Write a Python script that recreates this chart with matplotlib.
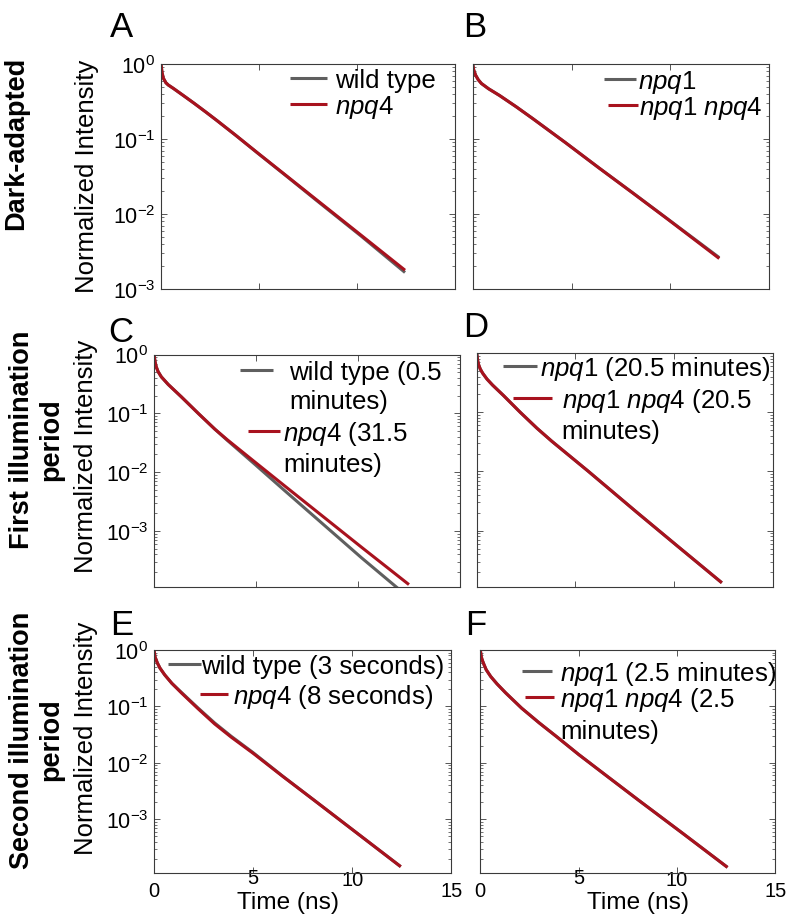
import matplotlib
matplotlib.use('Agg')
import matplotlib.pyplot as plt
from matplotlib.lines import Line2D
from matplotlib.legend import Legend
from matplotlib.transforms import ScaledTranslation

plt.rcParams['font.family'] = ['Liberation Sans', 'DejaVu Sans']
plt.rcParams['mathtext.fontset'] = 'custom'
plt.rcParams['mathtext.rm'] = 'Liberation Sans'
plt.rcParams['mathtext.it'] = 'Liberation Sans:italic'
plt.rcParams['mathtext.bf'] = 'Liberation Sans:bold'

# ---------------- data ----------------
# Panel A: dark-adapted
t_A = [0, 0.05, 0.12, 0.25, 0.37, 0.63, 1.14, 1.7, 2.3, 2.84, 3.8, 4.91, 6.4, 7.93, 10.2, 12.45]
wt_A = [1.0, 0.776, 0.646, 0.562, 0.525, 0.473, 0.380, 0.298, 0.2275, 0.1774, 0.1127,
        0.0655, 0.0320, 0.0152, 0.0051, 0.00166]
npq4_A = [1.0, 0.776, 0.646, 0.562, 0.525, 0.473, 0.380, 0.298, 0.2275, 0.1774, 0.1127,
          0.0659, 0.0323, 0.01552, 0.00524, 0.00178]
# Panel B: dark-adapted
t_B = [0, 0.05, 0.15, 0.28, 0.44, 0.8, 1.36, 2.2, 3.05, 4.7, 6.41, 8.1, 9.78, 12.47]
npq1_B = [1.0, 0.832, 0.708, 0.617, 0.550, 0.468, 0.380, 0.269, 0.186, 0.0891,
          0.0407, 0.0191, 0.00891, 0.00262]
npq1npq4_B = [1.0, 0.832, 0.708, 0.617, 0.550, 0.468, 0.380, 0.269, 0.186, 0.0891,
              0.0407, 0.0190, 0.00885, 0.00255]
# Panel C: first illumination period
t_C = [0, 0.05, 0.11, 0.2, 0.36, 0.7, 1.34, 2.2, 2.99, 3.6, 4.96, 6.4, 7.92, 10.2, 12.51]
wt_C = [1.0, 0.759, 0.617, 0.513, 0.417, 0.309, 0.191, 0.0977, 0.0537, 0.0347,
        0.0135, 0.0049, 0.0017, 0.000347, 7.4e-5]
npq4_C = [1.0, 0.759, 0.617, 0.513, 0.417, 0.309, 0.191, 0.0977, 0.0537, 0.0355,
          0.0148, 0.00589, 0.00224, 0.000525, 0.000123]
# Panel D: first illumination period
t_D = [0, 0.05, 0.1, 0.18, 0.3, 0.52, 0.8, 1.36, 2.2, 3.05, 3.8, 5.66, 8.11, 10.2, 12.41]
npq1_D = [1.0, 0.741, 0.631, 0.537, 0.457, 0.363, 0.288, 0.191, 0.100, 0.0537,
          0.0324, 0.0100, 0.00204, 0.000537, 0.000132]
npq1npq4_D = [1.0, 0.741, 0.631, 0.537, 0.457, 0.363, 0.288, 0.191, 0.100, 0.0537,
              0.0324, 0.0100, 0.00204, 0.000537, 0.000132]
# Panel E: second illumination period
t_E = [0, 0.05, 0.17, 0.3, 0.54, 0.9, 1.38, 2.22, 3.06, 3.9, 5.0, 6.5, 8.11, 10.3, 12.45]
wt_E = [1.0, 0.759, 0.589, 0.479, 0.363, 0.257, 0.178, 0.094, 0.051, 0.0295,
        0.0152, 0.0058, 0.00214, 0.00055, 0.000145]
npq4_E = [1.0, 0.759, 0.589, 0.479, 0.363, 0.257, 0.174, 0.0912, 0.049, 0.0285,
          0.0148, 0.00575, 0.00214, 0.00055, 0.000145]
# Panel F: second illumination period
t_F = [0, 0.05, 0.1, 0.19, 0.3, 0.53, 0.85, 1.29, 2.1, 2.99, 3.9, 5.0, 6.5, 8.08, 10.3, 12.57]
npq1_F = [1.0, 0.759, 0.661, 0.550, 0.447, 0.339, 0.251, 0.174, 0.0933, 0.0513,
          0.0288, 0.0141, 0.00562, 0.00214, 0.000562, 0.000141]
npq1npq4_F = [1.0, 0.759, 0.661, 0.550, 0.447, 0.339, 0.251, 0.174, 0.0933, 0.0513,
              0.0288, 0.0141, 0.00562, 0.00214, 0.000562, 0.000141]

x_ticks = [0, 5, 10, 15]
x_ticklabels = ['0', '5', '10', '15']
y_ticks = [1, 0.1, 0.01, 0.001]
row_titles = ['Dark-adapted', 'First illumination\nperiod', 'Second illumination\nperiod']
panel_letters = ['A', 'B', 'C', 'D', 'E', 'F']
ylabel_text = 'Normalized Intensity'
xlabel_text = 'Time (ns)'

# ---------------- style / layout ----------------
W, H, DPI = 793, 920, 100
GRAY = '#5f5f5f'
RED = '#a8121e'
SPINE = '#3a3a3a'
LW = 2.2
LEG_FS = 18.6
YTICK_FS = 15.5
XTICK_FS = 14.5
fig = plt.figure(figsize=(W / DPI, H / DPI), dpi=DPI)


def rect(l, t, r, b):
    return [l / W, 1 - b / H, (r - l) / W, (b - t) / H]


def add_legend(ax, line, texts, x_px, yc_px, hl_px, pad_px):
    fs_px = LEG_FS * DPI / 72
    handles = [line] + [Line2D([], [], color='none') for _ in texts[1:]]
    leg = Legend(ax, handles, texts, loc='upper left',
                 bbox_to_anchor=(x_px / W, 1 - (yc_px - 0.42 * fs_px) / H),
                 bbox_transform=fig.transFigure, frameon=False,
                 borderpad=0, borderaxespad=0,
                 handlelength=hl_px / fs_px, handletextpad=pad_px / fs_px,
                 labelspacing=0.2, fontsize=LEG_FS)
    ax.add_artist(leg)


panels = [
    dict(letter=0, rect=rect(161, 65, 455, 290), ylim=(1e-3, 1), left=True, bottom=False,
         series=[(t_A, wt_A, GRAY, ['wild type'], 290, 79.7, 37, 8),
                 (t_A, npq4_A, RED, [r'$\mathit{npq4}$'], 290, 104.7, 37, 8)],
         ylab=(-0.211, 0.504), letter_pos=(110, 37)),
    dict(letter=1, rect=rect(472.7, 65, 769.3, 290), ylim=(1e-3, 1), left=False, bottom=False,
         series=[(t_B, npq1_B, GRAY, [r'$\mathit{npq1}$'], 604, 79.7, 32, 2),
                 (t_B, npq1npq4_B, RED, [r'$\mathit{npq1}$ $\mathit{npq4}$'], 608, 106, 30, 1)],
         letter_pos=(463, 37)),
    dict(letter=2, rect=rect(154, 355.5, 459.7, 588), ylim=(1.12e-4, 1), left=True, bottom=False,
         series=[(t_C, wt_C, GRAY, ['wild type (0.5', 'minutes)'], 239.7, 372, 33, 16.7),
                 (t_C, npq4_C, RED, [r'$\mathit{npq4}$ (31.5', 'minutes)'], 248, 431, 31.7, 3.3)],
         ylab=(-0.183, 0.567), letter_pos=(108, 342)),
    dict(letter=3, rect=rect(476.7, 354, 773, 588), ylim=(1.12e-4, 1), left=False, bottom=False,
         series=[(t_D, npq1_D, GRAY, [r'$\mathit{npq1}$ (20.5 minutes)'], 503.3, 366.3, 33.4, 3.3),
                 (t_D, npq1npq4_D, RED, [r'$\mathit{npq1}$ $\mathit{npq4}$ (20.5', 'minutes)'],
                  513.3, 398, 38.4, 10)],
         letter_pos=(463, 337)),
    dict(letter=4, rect=rect(154, 651, 451.3, 874), ylim=(1.12e-4, 1), left=True, bottom=True,
         series=[(t_E, wt_E, GRAY, ['wild type (3 seconds)'], 168, 665.7, 33.3, 0),
                 (t_E, npq4_E, RED, [r'$\mathit{npq4}$ (8 seconds)'], 199.7, 694, 28.3, 5)],
         ylab=(-0.188, 0.61), xlab=(0.451, -0.081), letter_pos=(110, 635)),
    dict(letter=5, rect=rect(480.3, 651, 775.3, 874), ylim=(1.12e-4, 1), left=False, bottom=True,
         series=[(t_F, npq1_F, GRAY, [r'$\mathit{npq1}$ (2.5 minutes)'], 522, 670.7, 30, 8.3),
                 (t_F, npq1npq4_F, RED, [r'$\mathit{npq1}$ $\mathit{npq4}$ (2.5', 'minutes)'],
                  525.3, 697.3, 28.4, 6.6)],
         xlab=(0.535, -0.081), letter_pos=(465, 635)),
]

xtick_raise_px = [0, 13, 11, 0]

for p in panels:
    ax = fig.add_axes(p['rect'])
    lines = []
    for (tt, yy, col, texts, lx, ly, hl, pad) in p['series']:
        ln, = ax.plot(tt, yy, color=col, lw=LW, solid_capstyle='butt', solid_joinstyle='round')
        lines.append((ln, texts, lx, ly, hl, pad))
    ax.set_yscale('log')
    ax.set_xlim(0, 15)
    ax.set_ylim(*p['ylim'])
    ax.set_xticks(x_ticks)
    ax.set_yticks([v for v in y_ticks if v >= p['ylim'][0]])
    for s in ax.spines.values():
        s.set_color(SPINE)
        s.set_linewidth(0.8)
    ax.tick_params(which='both', direction='in', top=True, right=True, color=SPINE, pad=4)
    ax.tick_params(axis='y', labelsize=YTICK_FS)
    ax.tick_params(axis='x', labelsize=XTICK_FS, pad=6)
    ax.tick_params(which='major', length=4, width=0.6)
    ax.tick_params(which='minor', length=2, width=0.5)
    if p['bottom']:
        ax.set_xticklabels(x_ticklabels)
        for tick, rp in zip(ax.xaxis.get_major_ticks(), xtick_raise_px):
            tick.label1.set_transform(tick.label1.get_transform() +
                                      ScaledTranslation(0, rp / DPI, fig.dpi_scale_trans))
        ax.set_xlabel(xlabel_text, fontsize=17.6, va='top')
        ax.xaxis.set_label_coords(*p['xlab'])
    else:
        ax.tick_params(axis='x', labelbottom=False)
    if p['left']:
        ax.set_ylabel(ylabel_text, fontsize=18.5)
        ax.yaxis.set_label_coords(*p['ylab'])
    else:
        ax.tick_params(axis='y', labelleft=False)
    for (ln, texts, lx, ly, hl, pad) in lines:
        add_legend(ax, ln, texts, lx, ly, hl, pad)
    lx, ly = p['letter_pos']
    fig.text(lx / W, 1 - ly / H, panel_letters[p['letter']], fontsize=25,
             ha='left', va='baseline')

row_centers = [(16, 143.5), (37, 440), (37, 740)]
for title, (cx, cy) in zip(row_titles, row_centers):
    fig.text(cx / W, 1 - cy / H, title, rotation=90, fontsize=19.5, fontweight='bold',
             ha='center', va='center', multialignment='center', linespacing=1.15)

fig.savefig('out.png', dpi=DPI)
